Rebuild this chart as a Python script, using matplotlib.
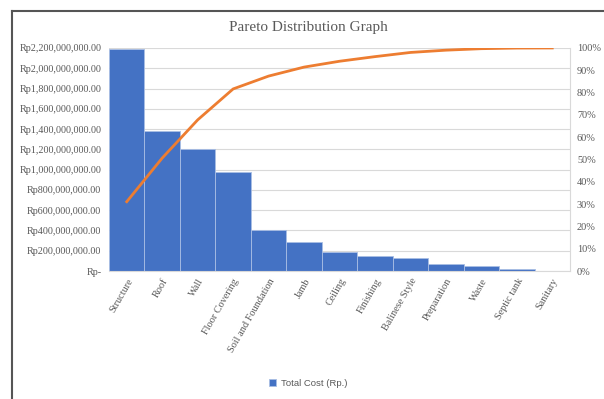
import numpy as np
import matplotlib
matplotlib.use("Agg")
import matplotlib.pyplot as plt
from matplotlib.lines import Line2D
from matplotlib.ticker import FuncFormatter, MultipleLocator

# data
categories = ["Structure", "Roof", "Wall", "Floor Covering", "Soil and Foundation",
              "Jamb", "Ceiling", "Finishing", "Balinese Style", "Preparation",
              "Waste", "Septic tank", "Sanitary"]
total_cost = [2190e6, 1380e6, 1206e6, 978e6, 406e6, 284e6, 185e6,
              146e6, 132e6, 72e6, 47e6, 20e6, 3e6]

cum_pct = np.cumsum(total_cost) / np.sum(total_cost) * 100

grey = "#595959"
serif = ["Liberation Serif", "DejaVu Serif"]

fig = plt.figure(figsize=(6.04, 3.99), dpi=100)
ax = fig.add_axes([0.1805, 0.3208, 0.7632, 0.559])

x = np.arange(len(categories))
ax.bar(x, total_cost, width=1.0, color="#4472C4", edgecolor="#A9BEE4",
       linewidth=0.6, label="Total Cost (Rp.)", zorder=2)
ax.set_xlim(-0.5, len(categories) - 0.5)
ax.set_ylim(0, 2.2e9)
ax.yaxis.set_major_locator(MultipleLocator(2e8))


def rp(v, pos):
    if v == 0:
        return "Rp-"
    return "Rp{:,.2f}".format(v)


ax.yaxis.set_major_formatter(FuncFormatter(rp))
ax.grid(axis="y", color="#D9D9D9", linewidth=0.8, zorder=0)
ax.set_axisbelow(True)
for s in ["top", "left", "right"]:
    ax.spines[s].set_visible(False)
ax.spines["bottom"].set_color("#D9D9D9")
ax.tick_params(axis="y", length=0, colors=grey, labelsize=7.3, pad=5.5)
ax.tick_params(axis="x", length=0, colors=grey, pad=4)
ax.set_xticks(x)
ax.set_xticklabels(categories, rotation=60, ha="right", rotation_mode="anchor",
                   family=serif, fontsize=7.4, color=grey)
for lab in ax.get_yticklabels():
    lab.set_family(serif)

ax2 = ax.twinx()
ax2.plot(x, cum_pct, color="#ED7D31", linewidth=2, zorder=3)
ax2.set_ylim(0, 100)
ax2.yaxis.set_major_locator(MultipleLocator(10))
ax2.yaxis.set_major_formatter(FuncFormatter(lambda v, p: "{:.0f}%".format(v)))
ax2.tick_params(length=0, colors=grey, labelsize=7.4, pad=5)
for lab in ax2.get_yticklabels():
    lab.set_family(serif)
for s in ["top", "left", "bottom"]:
    ax2.spines[s].set_visible(False)
ax2.spines["right"].set_color("#D9D9D9")

fig.text(0.51, 0.93, "Pareto Distribution Graph", ha="center", va="center",
         family=serif, fontsize=11, color=grey)

fig.legend(loc="center", bbox_to_anchor=(0.51, 0.04), frameon=False,
           prop={"family": ["Liberation Sans", "DejaVu Sans"], "size": 6.8},
           labelcolor=grey, handlelength=0.8, handleheight=0.8, handletextpad=0.5)

# frame lines of the embedded picture
fig.add_artist(Line2D([12 / 604, 1], [1 - 11 / 399, 1 - 11 / 399],
                      color="#555555", linewidth=1.5))
fig.add_artist(Line2D([12 / 604, 12 / 604], [0, 1 - 11 / 399],
                      color="#555555", linewidth=1.5))

fig.savefig("out.png", dpi=100)
